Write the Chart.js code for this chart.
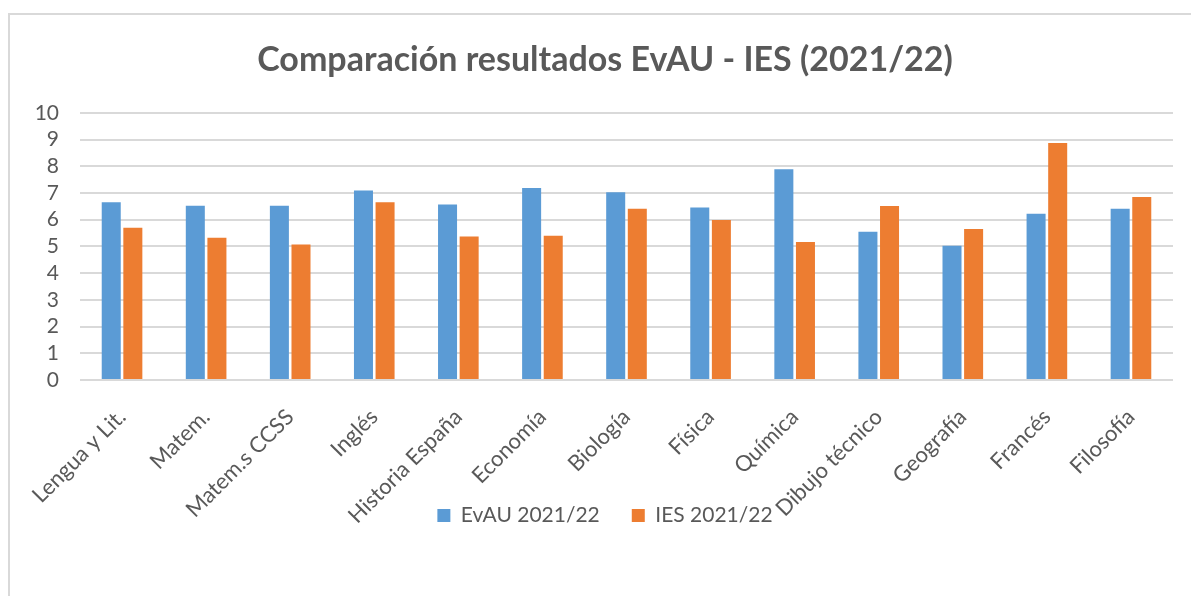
<!DOCTYPE html>
<html lang="es">
<head>
  <meta charset="UTF-8" />
  <title>Comparación resultados EvAU - IES (2021/22)</title>
  <script src="https://cdn.jsdelivr.net/npm/chart.js"></script>
  <style>
    html, body {
      margin: 0;
      padding: 0;
      background: #ffffff;
      overflow: hidden;
    }

    #frame {
      position: absolute;
      left: 8px;
      top: 13px;
      width: 2000px;
      height: 2000px;
      border-left: 2px solid #d9d9d9;
      border-top: 2px solid #d9d9d9;
    }

    #wrap {
      position: absolute;
      left: 0;
      top: 0;
      width: 1191px;
      height: 596px;
    }
  </style>
</head>
<body>
  <div id="frame"></div>
  <div id="wrap">
    <canvas id="evauChart" width="1191" height="596"></canvas>
  </div>

  <script>
    // Datos
    const asignaturas = [
      "Lengua y Lit.", "Matem.", "Matem.s CCSS", "Inglés", "Historia España",
      "Economía", "Biología", "Física", "Química", "Dibujo técnico",
      "Geografía", "Francés", "Filosofía"
    ];
    const evau = [6.65, 6.52, 6.52, 7.09, 6.57, 7.19, 7.03, 6.46, 7.89, 5.55, 5.02, 6.22, 6.41];
    const ies = [5.70, 5.32, 5.07, 6.65, 5.37, 5.40, 6.41, 5.99, 5.16, 6.51, 5.65, 8.87, 6.85];
    const yTicks = [0, 1, 2, 3, 4, 5, 6, 7, 8, 9, 10];

    const gris = "#595959";
    const FONT = "Lato, 'Open Sans', sans-serif";

    // La leyenda de Excel se monta sobre las etiquetas del eje X: la subimos
    const subirLeyenda = {
      id: "subirLeyenda",
      afterLayout(chart) {
        const lg = chart.legend;
        const d = lg.top + 45 - 518;
        lg.top -= d;
        lg.bottom -= d;
      }
    };

    new Chart(document.getElementById("evauChart"), {
      type: "bar",
      data: {
        labels: asignaturas,
        datasets: [
          {
            label: "EvAU 2021/22",
            data: evau,
            backgroundColor: "#5b9bd5",
            categoryPercentage: 0.514,
            barPercentage: 0.88
          },
          {
            label: "IES 2021/22",
            data: ies,
            backgroundColor: "#ed7d31",
            categoryPercentage: 0.514,
            barPercentage: 0.88
          }
        ]
      },
      options: {
        responsive: false,
        animation: false,
        layout: {
          padding: { left: 20, right: 1, top: 0, bottom: 7 }
        },
        scales: {
          x: {
            grid: { display: false, drawTicks: false },
            border: { display: false },
            ticks: {
              color: gris,
              font: { family: FONT, size: 22 },
              minRotation: 45,
              maxRotation: 45,
              autoSkip: false,
              padding: 24,
              labelOffset: 0
            },
            afterFit: (scale) => {
              scale.height = 146;
              scale.paddingLeft = 0;
              scale.paddingRight = 0;
            }
          },
          y: {
            min: 0,
            max: 10,
            afterBuildTicks: (scale) => {
              scale.ticks = yTicks.map(v => ({ value: v }));
            },
            grid: { color: "#d9d9d9", lineWidth: 2, drawTicks: false },
            border: { display: false },
            ticks: {
              color: gris,
              font: { family: FONT, size: 21 },
              padding: 21,
              autoSkip: false
            },
            afterFit: (scale) => { scale.width = 60; }
          },
          // eje vacío para dejar el hueco de la derecha
          y2: {
            position: "right",
            grid: { display: false, drawTicks: false },
            border: { display: false },
            ticks: { display: false },
            afterFit: (scale) => { scale.width = 17; }
          }
        },
        plugins: {
          title: {
            display: true,
            text: "Comparación resultados EvAU - IES (2021/22)",
            color: gris,
            font: { family: FONT, size: 34, weight: "bold" },
            padding: { top: 40, bottom: 32 }
          },
          legend: {
            position: "bottom",
            labels: {
              color: gris,
              font: { family: FONT, size: 21 },
              boxWidth: 13,
              boxHeight: 13,
              padding: 32
            }
          },
          tooltip: { enabled: false }
        }
      },
      plugins: [subirLeyenda]
    });
  </script>
</body>
</html>
